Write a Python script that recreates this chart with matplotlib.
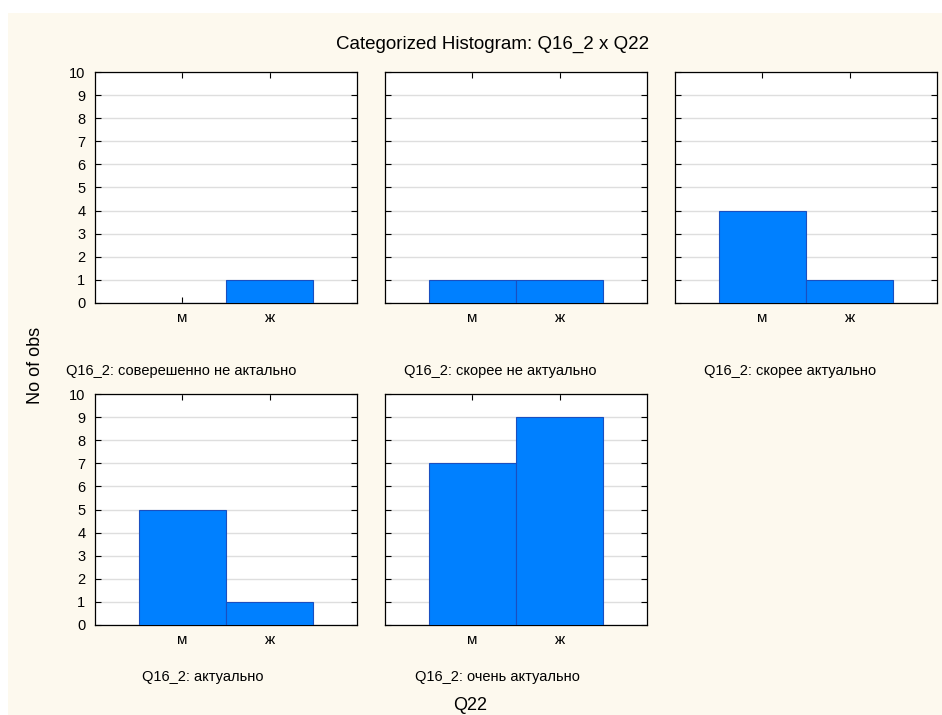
import matplotlib.pyplot as plt
from matplotlib.patches import Rectangle

# Data
sexes = ["м", "ж"]
groups = [
    "Q16_2: совeрешенно не актально",
    "Q16_2: скорее не актуально",
    "Q16_2: скорее актуально",
    "Q16_2: актуально",
    "Q16_2: очень актуально",
]
count_m = [0, 1, 4, 5, 7]
count_zh = [1, 1, 1, 1, 9]

plt.rcParams["font.family"] = ["Liberation Sans", "DejaVu Sans"]

bar_color = "#0080FF"
edge_color = "#1A4FC0"
cream = "#FDF9EE"

W, H = 942, 715
fig = plt.figure(figsize=(W / 100, H / 100), dpi=100, facecolor="white")
# cream panel with a thin white strip at top and left
fig.patches.append(Rectangle((8 / W, 0), 1, 1 - 13 / H, transform=fig.transFigure,
                             facecolor=cream, edgecolor="none", zorder=-10))

col_left = [95, 385, 675]
row_top = [72, 394]
ax_w, ax_h = 262, 231
label_x = [0.33, 0.44, 0.44, 0.41, 0.43]
label_dy = [68, 52]

for k, name in enumerate(groups):
    r, c = divmod(k, 3)
    left = col_left[c] / W
    bottom = 1 - (row_top[r] + ax_h) / H
    ax = fig.add_axes([left, bottom, ax_w / W, ax_h / H])
    ax.set_facecolor("white")
    vals = [count_m[k], count_zh[k]]
    ax.bar([1, 2], vals, width=1.0, color=bar_color, edgecolor=edge_color,
           linewidth=0.8, zorder=3)
    ax.set_xlim(0, 3)
    ax.set_ylim(0, 10)
    ax.set_yticks(range(0, 11))
    ax.set_xticks([1, 2])
    ax.set_xticklabels(sexes)
    ax.yaxis.grid(True, color="#DEDEDE", linewidth=1.0, zorder=0)
    ax.tick_params(direction="in", length=4, width=0.8, top=True, right=True)
    ax.tick_params(axis="x", labelsize=11, pad=6)
    ax.tick_params(axis="y", labelsize=10.5, pad=7)
    if c != 0:
        ax.set_yticklabels([])
    for sp in ax.spines.values():
        sp.set_linewidth(0.9)
        sp.set_color("black")
    ax.text(label_x[k], -label_dy[r] / ax_h, name, transform=ax.transAxes,
            ha="center", va="center", fontsize=10.5)

fig.text(493 / W, 1 - 44 / H, "Categorized Histogram: Q16_2 x Q22",
         ha="center", va="center", fontsize=13.5)
fig.text(470 / W, 1 - 705 / H, "Q22", ha="center", va="center", fontsize=13)
fig.text(35 / W, 1 - 365 / H, "No of obs", ha="center", va="center",
         rotation=90, fontsize=13)

fig.savefig("out.png", dpi=100, facecolor=fig.get_facecolor())
